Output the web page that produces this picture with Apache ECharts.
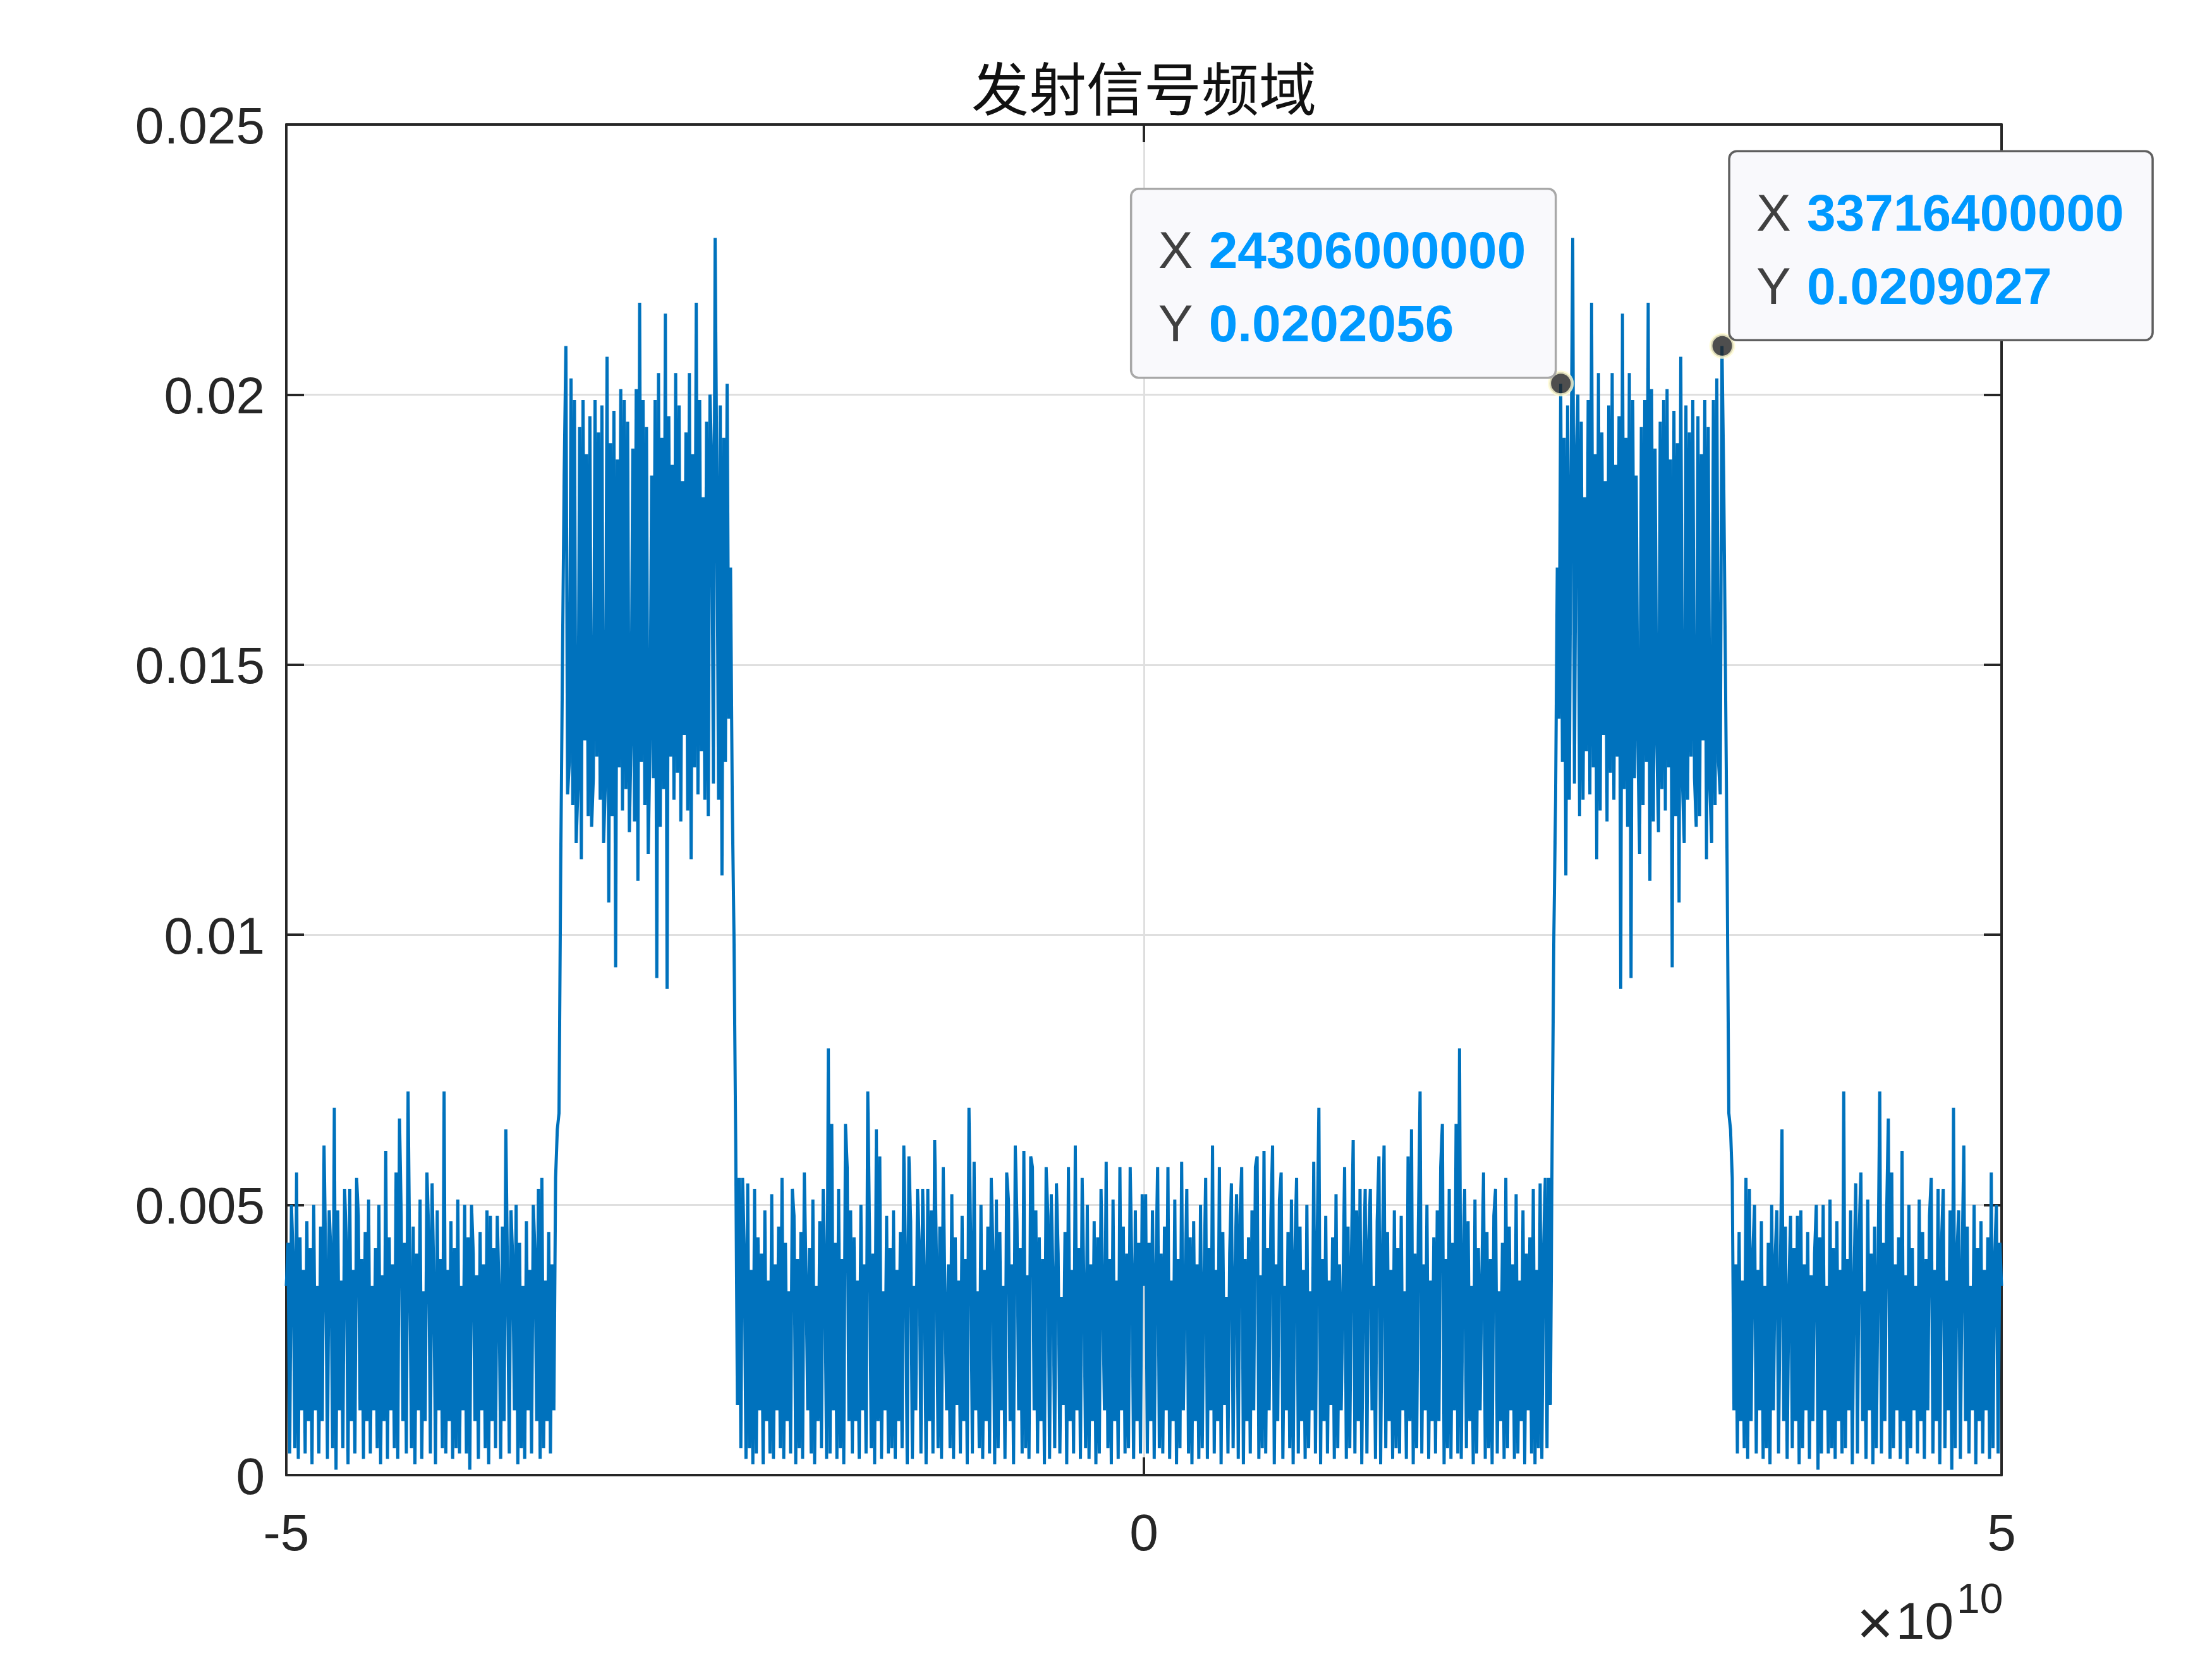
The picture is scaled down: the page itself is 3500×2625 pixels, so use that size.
<!DOCTYPE html>
<html><head><meta charset="utf-8">
<script src="https://cdn.jsdelivr.net/npm/echarts@6/dist/echarts.min.js"></script>
<style>html,body{margin:0;padding:0;background:#fff}#c{width:3500px;height:2625px}</style>
</head><body><div id="c"></div>
<script>
const titleText = '发射信号频域';
// frequency bins (Hz): f = freqStart + i*freqStep
const freqStart = -5e10, freqStep = 1e8;
// |spectrum| in units of 1e-4, f = -5e10 ... -1e8
const magNegE4 = [35,
43,4,50,40,5,56,3,44,12,38,
4,47,10,42,2,50,12,35,4,46,
10,61,39,3,49,41,5,68,1,49,
12,36,5,53,43,2,53,10,38,4,
55,48,12,40,3,45,10,51,4,35,
12,42,5,50,2,37,10,60,3,44,
12,39,5,56,3,66,48,10,43,4,
71,38,5,46,2,41,12,51,3,34,
10,56,45,4,54,36,2,49,12,40,
5,71,4,38,10,47,3,42,5,51,
4,35,12,50,4,44,1,50,41,10,
37,3,45,12,39,5,49,2,48,10,
42,5,48,34,3,46,10,64,36,4,
49,40,12,50,2,43,5,35,3,47,
12,38,4,50,41,10,53,3,55,5,
36,10,45,4,39,12,55,64,67,113,
150,185,209,126,132,203,124,199,117,127,
194,114,199,136,189,122,196,120,129,199,
133,193,125,198,117,128,207,106,191,122,
197,94,188,131,201,123,199,127,195,119,
136,190,121,201,110,217,132,199,124,194,
115,135,185,129,199,92,204,120,192,127,
215,90,196,133,187,125,204,130,198,121,
184,137,193,123,204,114,189,131,217,126,
199,134,181,125,195,122,200,188,128,229,
184,125,198,111,192,132,202,140,168,125,
100,62,13,55,5,55,42,3,54,5,
38,2,53,4,44,12,41,2,49,10,
36,4,52,3,39,12,46,5,55,3,
43,10,34,4,53,48,2,40,5,45,
3,56,37,12,42,4,51,2,35,10,
47,5,53,38,3,79,4,65,12,43,
3,53,5,40,2,65,57,10,49,4,
44,10,36,3,50,12,39,4,71,46,
5,41,2,64,10,59,3,34,12,48,
4,42,5,49,3,38,10,45,5,61,
40,2,59,47,3,35,12,53,43,4,
53,37,2,53,10,49,4,62,41,5,
46,3,57,33,12,39,5,52,3,44,
13,36,4,48,10,40,2,68,43,4,
58,12,34,5,50,3,38,10,46,4,
55,41,2,51,5,45,12,35,3,56,
51,10,39,2,61,47,12,42,4,60,
5,37,3,59,57,12,49,4,44,10,
40,2,57,48,3,52,36,5,54,41,
4,33,13,45,2,57,10,38,4,61,
12,42,3,55,35,5,50,3,39,10,
47,2,44,4,53,34,12,58,5,40,
2,51,10,36,3,57,12,46,4,41,
5,57,38,3,49,10,43,4,52];
// |spectrum| in units of 1e-4, f = 0 ... 5e10
const magPosE4 = [
35,52,4,43,10,49,3,38,57,5,
41,4,46,12,57,3,36,10,51,2,
40,5,58,12,34,53,4,44,2,47,
10,39,3,50,5,35,55,3,42,12,
61,4,38,10,57,2,45,13,33,4,
41,54,5,36,52,3,48,57,2,40,
10,44,4,49,12,57,59,3,37,5,
60,4,42,12,47,61,2,39,10,51,
56,3,35,12,45,5,51,2,41,55,
4,46,10,38,3,50,5,34,12,58,
4,43,68,2,40,10,48,4,36,13,
44,3,52,5,39,12,33,57,3,46,
5,41,62,4,49,10,53,2,37,53,
4,43,53,12,35,3,47,59,2,40,
61,5,45,10,38,3,49,5,42,4,
48,12,34,3,59,10,64,2,41,5,
46,71,4,39,12,50,3,36,10,44,
4,49,10,57,65,2,40,5,53,3,
43,12,65,4,79,3,38,53,5,47,
10,35,2,51,4,42,12,37,56,3,
45,5,40,2,48,53,4,34,10,43,
3,55,5,46,12,39,3,52,4,36,
10,49,2,41,12,44,4,53,2,38,
5,54,3,42,55,5,55,13,62,100,
125,168,140,202,132,192,111,198,125,184,
229,128,188,200,122,195,125,181,134,199,
126,217,131,189,114,204,123,193,137,184,
121,198,130,204,125,187,133,196,90,215,
127,192,120,204,92,199,129,185,135,115,
194,124,199,132,217,110,201,121,190,136,
119,195,127,199,123,201,131,188,94,197,
122,191,106,207,128,117,198,125,193,133,
199,129,120,196,122,189,136,199,114,194,
127,117,199,124,203,132,126,209,185,150,
113,67,64,55,12,39,4,45,10,36,
5,55,3,53,10,41,50,4,38,12,
47,3,35,5,43,2,50,12,40,49,
4,36,64,10,46,3,34,48,5,42,
10,48,2,49,5,39,12,45,3,37,
10,41,50,1,44,4,50,12,35,4,
51,5,42,3,47,10,38,4,71,5,
40,12,49,2,36,54,4,45,56,10,
34,3,51,12,41,2,46,5,38,71,
4,43,10,48,66,3,56,5,39,12,
44,3,60,10,37,2,50,5,42,12,
35,4,51,10,45,3,40,12,48,55,
4,38,10,53,2,43,53,5,36,12,
49,1,68,5,41,49,3,39,61,10,
46,4,35,12,50,2,42,10,47,4,
38,12,44,3,56,5,40,50,4,43,
35];
const xTicks = [-5e10, 0, 5e10];
const xTickLabels = ['-5', '0', '5'];
const yTicks = [0, 0.005, 0.01, 0.015, 0.02, 0.025];
const yTickLabels = ['0', '0.005', '0.01', '0.015', '0.02', '0.025'];
const tipX = [24306000000, 33716400000];
const tipY = [0.0202056, 0.0209027];
const tipXText = ['24306000000', '33716400000'];
const tipYText = ['0.0202056', '0.0209027'];
const expTimes = '\u00d7', expBase = '10', expPower = '10';

const FONT = 'Liberation Sans, Arial, Helvetica, sans-serif';
const AX = '#262626';
const mag = magNegE4.concat(magPosE4);
const lineData = mag.map((v, i) => [freqStart + i * freqStep, v * 1e-4]);
const tipData = tipX.map((x, i) => [x, tipY[i]]);

function labelFor(ticks, labels, v) {
  let best = 0, d = Infinity;
  ticks.forEach((t, i) => { const e = Math.abs(t - v); if (e < d) { d = e; best = i; } });
  return labels[best];
}
const xMin = xTicks[0], xMax = xTicks[xTicks.length - 1], xInt = xTicks[1] - xTicks[0];
const yMin = yTicks[0], yMax = yTicks[yTicks.length - 1], yInt = yTicks[1] - yTicks[0];
const tick = { show: true, inside: true, length: 28, lineStyle: { color: AX, width: 4 } };
const axLine = { show: true, onZero: false, lineStyle: { color: AX, width: 4 } };

const chart = echarts.init(document.getElementById('c'), null, { renderer: 'canvas', width: 3500, height: 2625 });
chart.setOption({
  animation: false,
  backgroundColor: '#ffffff',
  grid: { left: 453, right: 333, top: 197, bottom: 291, containLabel: false },
  xAxis: [
    { type: 'value', min: xMin, max: xMax, interval: xInt, position: 'bottom',
      axisLine: axLine, axisTick: tick,
      axisLabel: { margin: 55, fontSize: 82, fontFamily: FONT, color: AX,
        formatter: v => labelFor(xTicks, xTickLabels, v) },
      splitLine: { show: true, lineStyle: { color: '#dfdfdf', width: 3 } } },
    { type: 'value', min: xMin, max: xMax, interval: xInt, position: 'top',
      axisLine: axLine, axisTick: tick, axisLabel: { show: false }, splitLine: { show: false } }
  ],
  yAxis: [
    { type: 'value', min: yMin, max: yMax, interval: yInt, position: 'left',
      axisLine: axLine, axisTick: tick,
      axisLabel: { margin: 34, fontSize: 82, fontFamily: FONT, color: AX,
        verticalAlign: 'top', lineHeight: 14,
        formatter: v => labelFor(yTicks, yTickLabels, v) },
      splitLine: { show: true, lineStyle: { color: '#dfdfdf', width: 3 } } },
    { type: 'value', min: yMin, max: yMax, interval: yInt, position: 'right',
      axisLine: axLine, axisTick: tick, axisLabel: { show: false }, splitLine: { show: false } }
  ],
  series: [
    { type: 'line', data: lineData, xAxisIndex: 0, yAxisIndex: 0, showSymbol: false,
      symbol: 'none', sampling: 'none', lineStyle: { color: '#0072BD', width: 5 }, z: 2, silent: true },
    { type: 'scatter', data: tipData, xAxisIndex: 0, yAxisIndex: 0, symbolSize: 36, z: 5,
      itemStyle: { color: '#222222', borderColor: '#fffbd2', borderWidth: 5 }, silent: true }
  ]
});

const g = [];
g.push({ type: 'text', z: 100, style: { x: 1810, y: 140, text: titleText, fontSize: 91,
  fontFamily: 'Noto Sans CJK SC', fill: '#111', textAlign: 'center', textVerticalAlign: 'middle' } });
g.push({ type: 'text', z: 100, style: { x: 2967, y: 2574, text: expTimes, fontSize: 100, fontFamily: FONT,
  fill: AX, textAlign: 'center', textVerticalAlign: 'middle' } });
g.push({ type: 'text', z: 100, style: { x: 3091, y: 2570, text: expBase, fontSize: 82, fontFamily: FONT,
  fill: AX, textAlign: 'right', textVerticalAlign: 'middle' } });
g.push({ type: 'text', z: 100, style: { x: 3096, y: 2534, text: expPower, fontSize: 66, fontFamily: FONT,
  fill: AX, textAlign: 'left', textVerticalAlign: 'middle' } });

const boxW = [672, 670], boxH = 299;
const border = ['#a8a8a8', '#5f5f5f'];
tipX.forEach((x, i) => {
  const p = chart.convertToPixel({ xAxisIndex: 0, yAxisIndex: 0 }, [x, tipY[i]]);
  const bx = i === 0 ? p[0] - 8 - boxW[i] : p[0] + 11;
  const by = p[1] - 9 - boxH;
  g.push({ type: 'rect', z: 100, shape: { x: bx, y: by, width: boxW[i], height: boxH, r: 12 },
    style: { fill: '#f9f9fc', stroke: border[i], lineWidth: 3.5 } });
  [['X', tipXText[i], 103], ['Y', tipYText[i], 219]].forEach(r => {
    g.push({ type: 'text', z: 101, style: { x: bx + 43, y: by + r[2], text: r[0], fontSize: 82,
      fontFamily: FONT, fill: '#404040', textAlign: 'left', textVerticalAlign: 'middle' } });
    g.push({ type: 'text', z: 101, style: { x: bx + 123, y: by + r[2], text: r[1], fontSize: 82,
      fontWeight: 'bold', fontFamily: FONT, fill: '#0099ff', textAlign: 'left', textVerticalAlign: 'middle' } });
  });
});
chart.setOption({ graphic: g });
</script></body></html>
